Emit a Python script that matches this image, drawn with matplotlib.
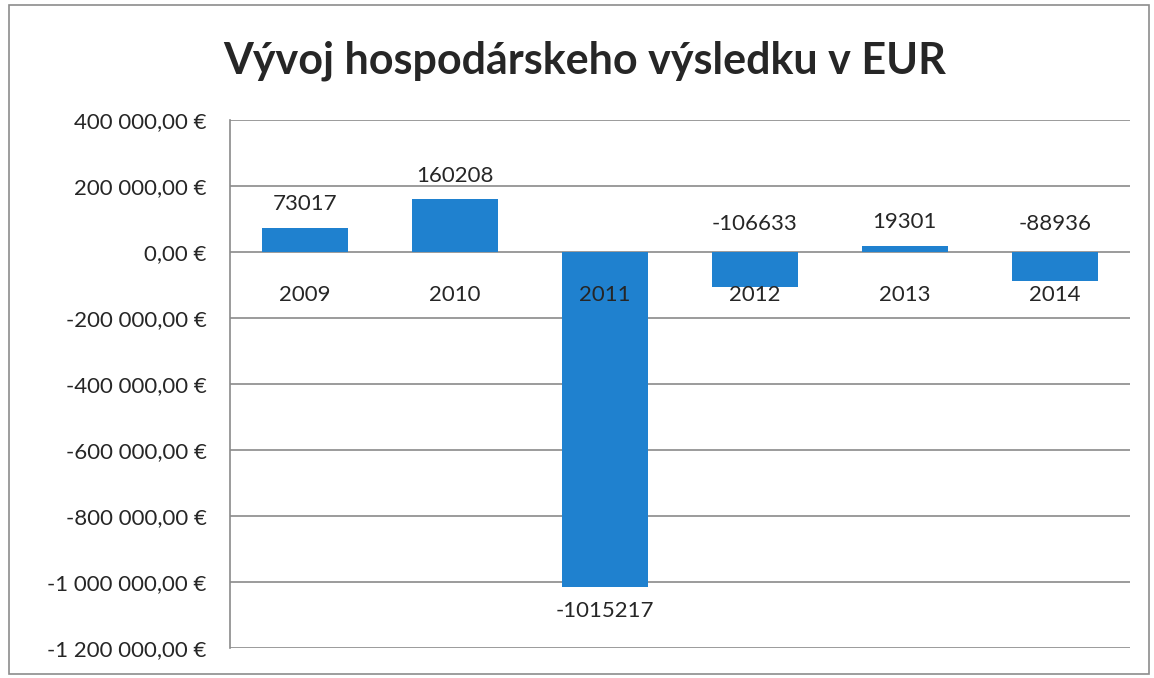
import matplotlib
matplotlib.use("Agg")
from matplotlib import pyplot as plt
from matplotlib.ticker import FuncFormatter
from matplotlib.patches import Rectangle

years = ["2009", "2010", "2011", "2012", "2013", "2014"]
values = [73017, 160208, -1015217, -106633, 19301, -88936]
y_ticks = [400000, 200000, 0, -200000, -400000, -600000, -800000, -1000000, -1200000]

plt.rcParams['font.family'] = ['Lato', 'DejaVu Sans']
text_col = '#262626'
bar_col = '#1f81cf'


def eur(v, pos=None):
    s = '{:,.2f}'.format(abs(v)).replace(',', ' ').replace('.', ',')
    return ('-' if v < 0 else '') + s + ' €'


fig = plt.figure(figsize=(11.54, 6.78), dpi=100)
fig.patches.append(Rectangle((0.008, 0.006), 0.988, 0.986, transform=fig.transFigure,
                             fill=False, edgecolor='#8c8c8c', linewidth=1.2))

ax = fig.add_axes([0.1993, 0.0442, 0.7797, 0.7788])
x = list(range(len(years)))
ax.bar(x, values, width=0.57, color=bar_col, zorder=3)

ax.set_xlim(-0.5, len(years) - 0.5)
ax.set_ylim(-1200000, 400000)
ax.set_yticks(y_ticks)
ax.yaxis.set_major_formatter(FuncFormatter(eur))
ax.tick_params(axis='y', length=0, pad=17, labelsize=16, labelcolor=text_col)
ax.set_xticks([])
ax.grid(axis='y', color='#8a8a8a', linewidth=1.2, zorder=0)
for side in ['top', 'right', 'bottom']:
    ax.spines[side].set_visible(False)
ax.spines['left'].set_color('#8a8a8a')
ax.spines['left'].set_linewidth(1.2)

# category labels just below the zero line
for i, yr in enumerate(years):
    ax.annotate(yr, (i, 0), xytext=(0, -31), textcoords='offset points',
                ha='center', va='center', fontsize=16, color=text_col)

# value labels
for i, v in enumerate(values):
    if v >= 0:
        ax.annotate(str(v), (i, v), xytext=(0, 17), textcoords='offset points',
                    ha='center', va='center', fontsize=16, color=text_col)
    elif v < -500000:
        ax.annotate(str(v), (i, v), xytext=(0, -17), textcoords='offset points',
                    ha='center', va='center', fontsize=16, color=text_col)
    else:
        ax.annotate(str(v), (i, 0), xytext=(0, 20), textcoords='offset points',
                    ha='center', va='center', fontsize=16, color=text_col)

fig.text(0.507, 0.91, 'Vývoj hospodárskeho výsledku v EUR', ha='center', va='center',
         fontsize=31, fontweight='bold', color=text_col)

fig.savefig('out.png', dpi=100)
